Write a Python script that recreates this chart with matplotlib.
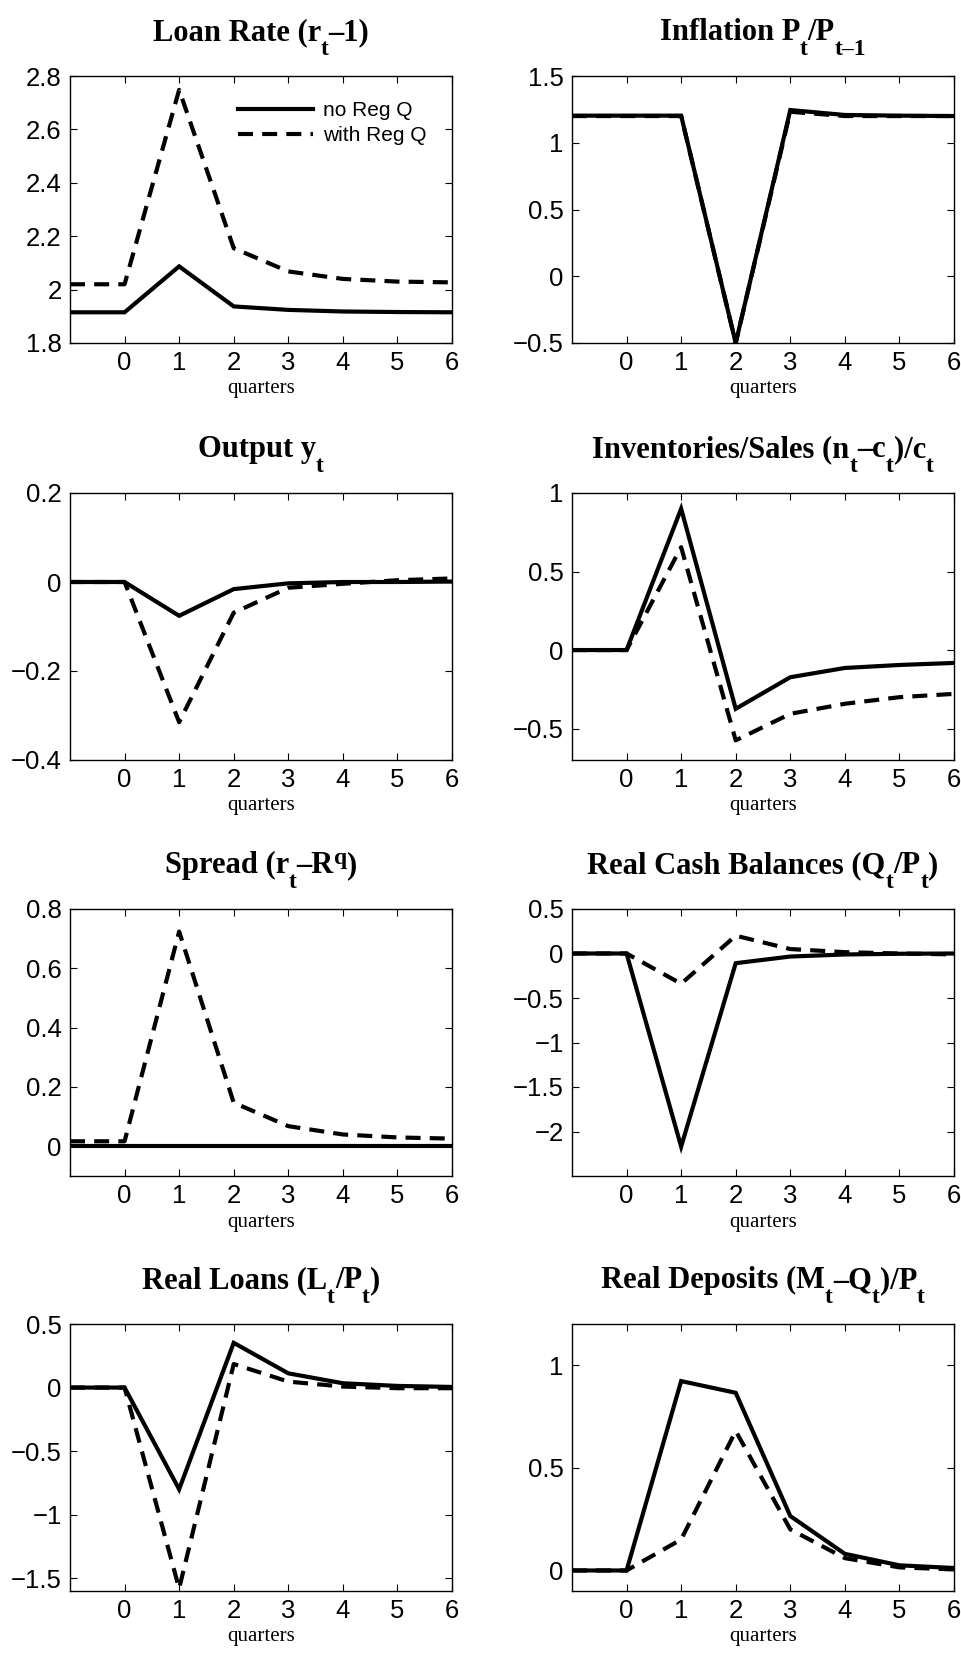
import re
import numpy as np
import matplotlib
matplotlib.use("Agg")
import matplotlib.pyplot as plt
from matplotlib.ticker import FuncFormatter

plt.rcParams['font.family'] = ['Liberation Sans', 'DejaVu Sans']

quarters = [-1, 0, 1, 2, 3, 4, 5, 6]

# impulse responses: (no Reg Q, with Reg Q)
loan_rate_noq = [1.915, 1.915, 2.087, 1.937, 1.924, 1.918, 1.916, 1.915]
loan_rate_q = [2.02, 2.02, 2.748, 2.155, 2.068, 2.04, 2.03, 2.027]
inflation_noq = [1.203, 1.203, 1.203, -0.5, 1.245, 1.208, 1.203, 1.2]
inflation_q = [1.2, 1.2, 1.2, -0.5, 1.232, 1.2, 1.2, 1.2]
output_noq = [0.0, 0.0, -0.076, -0.016, -0.003, 0.0, 0.0, 0.001]
output_q = [0.0, 0.0, -0.315, -0.069, -0.013, -0.004, 0.004, 0.008]
invsales_noq = [0.0, 0.0, 0.90, -0.374, -0.173, -0.114, -0.095, -0.082]
invsales_q = [0.0, 0.0, 0.655, -0.575, -0.406, -0.342, -0.30, -0.279]
spread_noq = [0.0, 0.0, 0.0, 0.0, 0.0, 0.0, 0.0, 0.0]
spread_q = [0.017, 0.017, 0.724, 0.147, 0.068, 0.04, 0.03, 0.026]
cash_noq = [0.0, 0.0, -2.17, -0.109, -0.034, -0.011, -0.003, 0.0]
cash_q = [0.0, 0.0, -0.34, 0.2, 0.05, 0.015, 0.0, -0.01]
loans_noq = [0.0, 0.0, -0.80, 0.352, 0.112, 0.034, 0.013, 0.005]
loans_q = [0.0, 0.0, -1.58, 0.185, 0.047, 0.008, -0.005, -0.005]
deposits_noq = [0.0, 0.0, 0.922, 0.865, 0.265, 0.081, 0.025, 0.012]
deposits_q = [0.0, 0.0, 0.151, 0.679, 0.2, 0.06, 0.015, 0.005]

# _{..} subscript, ^{..} superscript
titles = [
    "Loan Rate (r_{t}–1)",
    "Inflation P_{t}/P_{t–1}",
    "Output y_{t}",
    "Inventories/Sales (n_{t}–c_{t})/c_{t}",
    "Spread (r_{t}–R^{q})",
    "Real Cash Balances (Q_{t}/P_{t})",
    "Real Loans (L_{t}/P_{t})",
    "Real Deposits (M_{t}–Q_{t})/P_{t}",
]
series = [
    (loan_rate_noq, loan_rate_q),
    (inflation_noq, inflation_q),
    (output_noq, output_q),
    (invsales_noq, invsales_q),
    (spread_noq, spread_q),
    (cash_noq, cash_q),
    (loans_noq, loans_q),
    (deposits_noq, deposits_q),
]
ylims = [(1.8, 2.8), (-0.5, 1.5), (-0.4, 0.2), (-0.7, 1.0),
         (-0.1, 0.8), (-2.5, 0.5), (-1.6, 0.5), (-0.1, 1.2)]
yticks = [
    [1.8, 2.0, 2.2, 2.4, 2.6, 2.8],
    [-0.5, 0, 0.5, 1, 1.5],
    [-0.4, -0.2, 0, 0.2],
    [-0.5, 0, 0.5, 1],
    [0, 0.2, 0.4, 0.6, 0.8],
    [-2, -1.5, -1, -0.5, 0, 0.5],
    [-1.5, -1, -0.5, 0, 0.5],
    [0, 0.5, 1],
]

W, H = 962, 1654
fig = plt.figure(figsize=(W / 100, H / 100), dpi=100)
renderer = fig.canvas.get_renderer()

col_left = [70, 572]
col_width = 382
row_bottom = [343, 760, 1176, 1591]
ax_height = 267

TITLE_SIZE = 22
SUB_SIZE = 17


def draw_title(text, cx, base_y):
    # split into (piece, kind) with kind 0 normal, -1 sub, +1 sup
    pieces = []
    pos = 0
    for m in re.finditer(r'([_^])\{([^}]*)\}', text):
        if m.start() > pos:
            pieces.append((text[pos:m.start()], 0))
        pieces.append((m.group(2), -1 if m.group(1) == '_' else 1))
        pos = m.end()
    if pos < len(text):
        pieces.append((text[pos:], 0))
    arts = []
    total = 0
    for s, kind in pieces:
        size = TITLE_SIZE if kind == 0 else SUB_SIZE
        t = fig.text(0, 0, s, family='Liberation Serif', fontweight='bold',
                     fontsize=size, va='baseline', ha='left')
        w = t.get_window_extent(renderer).width
        arts.append((t, kind, w))
        total += w
    x = cx - total / 2
    for t, kind, w in arts:
        dy = {0: 0, -1: -15, 1: 9}[kind]
        t.set_position((x / W, 1 - (base_y - dy) / H))
        x += w


for i in range(8):
    r, c = divmod(i, 2)
    ax = fig.add_axes([col_left[c] / W, 1 - row_bottom[r] / H,
                       col_width / W, ax_height / H])
    noq, q = series[i]
    ax.plot(quarters, noq, color='black', lw=3.0, solid_joinstyle='miter',
            label='no Reg Q')
    ax.plot(quarters, q, color='black', lw=3.0, linestyle=(0, (3.6, 2.2)),
            label='with Reg Q')
    ax.set_xlim(-1, 6)
    ax.set_ylim(*ylims[i])
    ax.set_xticks(range(0, 7))
    ax.set_yticks(yticks[i])
    ax.yaxis.set_major_formatter(
        FuncFormatter(lambda v, p: ('%g' % v).replace('-', '\u2212')))
    ax.tick_params(direction='in', top=True, right=True, length=5,
                   width=0.8, labelsize=18.5, pad=6)
    for sp in ax.spines.values():
        sp.set_linewidth(1.0)
    ax.set_xlabel('quarters', family='Liberation Serif', fontsize=15,
                  labelpad=3)
    top_px = row_bottom[r] - ax_height
    draw_title(titles[i], col_left[c] + col_width / 2, top_px - 36)
    if i == 0:
        ax.legend(loc='upper right', frameon=False, fontsize=15,
                  handlelength=3.6, handletextpad=0.5, labelspacing=0.3,
                  borderaxespad=0.8)

fig.savefig('out.png', dpi=100)
